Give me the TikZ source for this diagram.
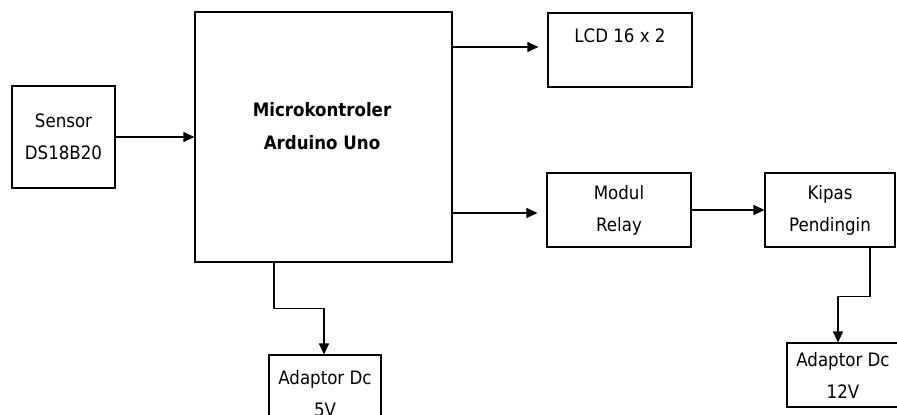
\documentclass[tikz,border=0pt]{standalone}
\usepackage{fontspec}
\setmainfont{DejaVu Sans Condensed}
\usetikzlibrary{arrows.meta}
\begin{document}
\begin{tikzpicture}[x=1pt,y=-1pt,
  box/.style={draw=black,line width=1.1pt,inner sep=0pt,align=center,
    font=\fontsize{18.5}{32}\selectfont},
  arr/.style={draw=black,line width=1.1pt,-{Triangle[length=11pt,width=10pt]}},
  ln/.style={draw=black,line width=1.1pt}]
\useasboundingbox (0,0) rectangle (897,415);
\clip (0,0) rectangle (897,415);
\node[box,minimum width=103pt,minimum height=102pt] (sensor) at (63.5,137) {Sensor\\DS18B20};
\node[box,minimum width=257pt,minimum height=250pt] (micro) at (323.5,137) {};
\node[font=\fontsize{18.5}{33}\selectfont\bfseries,align=center] (microtxt) at (322,126) {Microkontroler\\Arduino Uno};
\node[box,minimum width=144pt,minimum height=74pt] (lcd) at (620,50) {LCD 16 x 2\\[-4pt]\phantom{x}};
\node[box,minimum width=144pt,minimum height=74pt] (relay) at (619,210) {Modul\\Relay};
\node[box,minimum width=130pt,minimum height=74pt] (kipas) at (830,210) {Kipas\\Pendingin};
\node[box,minimum width=112pt,minimum height=64pt] (ad12) at (843,375) {Adaptor Dc\\12V};
\node[box,minimum width=112pt,minimum height=78pt] (ad5) at (325,394) {Adaptor Dc\\5V};
\draw[arr] (sensor.east) -- (sensor.east -| micro.west);
\coordinate (mo1) at (452,47);
\draw[arr,shorten >=9pt] (mo1) -- (mo1 -| lcd.west);
\coordinate (mo2) at (452,213);
\draw[arr,shorten >=9pt] (mo2) -- (mo2 -| relay.west);
\draw[arr] (relay.east) -- (kipas.west);
\draw[arr] ([xshift=40pt]kipas.south) -- ++(0,49) -| ([xshift=-5pt]ad12.north);
\draw[arr] ([xshift=-49.5pt]micro.south) -- ++(0,46) -| ([xshift=-1pt]ad5.north);
\end{tikzpicture}
\end{document}
